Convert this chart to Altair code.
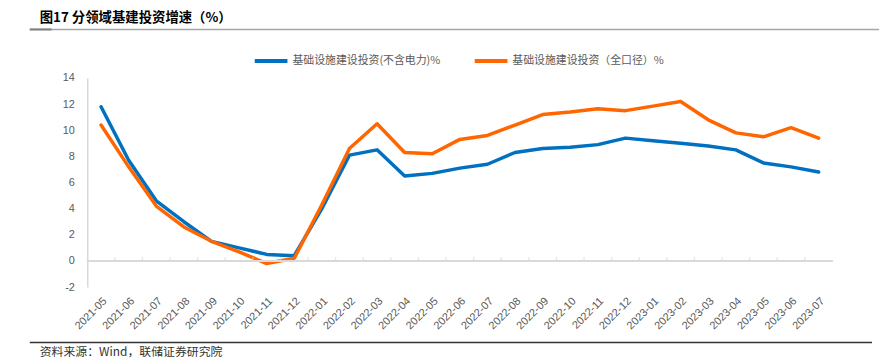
import altair as alt
import pandas as pd

months = ["2021-05", "2021-06", "2021-07", "2021-08", "2021-09", "2021-10", "2021-11", "2021-12",
          "2022-01", "2022-02", "2022-03", "2022-04", "2022-05", "2022-06", "2022-07", "2022-08",
          "2022-09", "2022-10", "2022-11", "2022-12", "2023-01", "2023-02", "2023-03", "2023-04",
          "2023-05", "2023-06", "2023-07"]
ex_power = [11.8, 7.7, 4.6, 3.0, 1.5, 1.0, 0.5, 0.4,
            4.0, 8.1, 8.5, 6.5, 6.7, 7.1, 7.4, 8.3,
            8.6, 8.7, 8.9, 9.4, 9.2, 9.0, 8.8, 8.5,
            7.5, 7.2, 6.8]
full_scope = [10.4, 7.2, 4.2, 2.6, 1.5, 0.7, -0.2, 0.2,
              4.3, 8.6, 10.5, 8.3, 8.2, 9.3, 9.6, 10.4,
              11.2, 11.4, 11.65, 11.5, 11.85, 12.2, 10.8, 9.8,
              9.5, 10.2, 9.4]
s1 = "基础设施建设投资(不含电力)%"
s2 = "基础设施建设投资（全口径）%"
title_text = "图17 分领域基建投资增速（%）"
source_text = "资料来源：Wind，联储证券研究院"
y_ticks = [-2, 0, 2, 4, 6, 8, 10, 12, 14]

df = pd.DataFrame({
    "month": months * 2,
    "value": ex_power + full_scope,
    "series": [s1] * len(months) + [s2] * len(months),
})

W, H = 752, 211
xscale = alt.Scale(type="band", domain=months, paddingInner=0, paddingOuter=0)
yscale = alt.Scale(domain=[-2, 14], nice=False)

x_axis = alt.Axis(title=None, labelAngle=-45, domain=False, ticks=False,
                  labelColor="#595959", labelFontSize=11, labelFont="Liberation Sans",
                  labelPadding=8, labelOverlap=False)
y_axis = alt.Axis(title=None, values=y_ticks, grid=False, ticks=False,
                  domainColor="#d9d9d9", domainWidth=1.5,
                  labelColor="#595959", labelFontSize=11, labelFont="Liberation Sans",
                  labelPadding=13, labelOverlap=False, labelSeparation=0,
                  labelExpr="'' + datum.value")

base = alt.Chart(df)

lines = base.mark_line(strokeWidth=3.5, strokeCap="round", strokeJoin="round").encode(
    x=alt.X("month:N", scale=xscale, sort=months, axis=x_axis),
    y=alt.Y("value:Q", scale=yscale, axis=y_axis),
    color=alt.Color("series:N",
                    scale=alt.Scale(domain=[s1, s2], range=["#0070C0", "#FF6600"]),
                    legend=alt.Legend(title=None, orient="none", legendX=167, legendY=-36,
                                      direction="horizontal", symbolType="stroke",
                                      symbolSize=1089, symbolStrokeWidth=4,
                                      labelFont="Noto Sans CJK SC", labelFontSize=11,
                                      labelColor="#595959", labelLimit=300, labelOffset=3,
                                      columnPadding=26)),
)

zero = base.mark_rule(color="#d9d9d9", strokeWidth=1.5).encode(
    y=alt.Y(datum=0, type="quantitative", scale=yscale, axis=y_axis))

ticks = alt.Chart(pd.DataFrame({"month": months})).mark_tick(
    orient="vertical", size=4, thickness=1.2, color="#d9d9d9"
).encode(
    x=alt.X("month:N", scale=xscale, sort=months, bandPosition=0, axis=x_axis),
    y=alt.Y(datum=0.15, type="quantitative", scale=yscale, axis=y_axis),
)

one = pd.DataFrame({"a": [1]})
title_mark = alt.Chart(one).mark_text(
    text=title_text, align="left", baseline="middle", font="Noto Sans CJK SC",
    fontSize=13.5, fontWeight="bold", color="#000000"
).encode(x=alt.value(-48), y=alt.value(-60.5))

title_rule = alt.Chart(one).mark_rule(color="#a6a6a6", strokeWidth=1.5).encode(
    x=alt.value(-58), x2=alt.value(799), y=alt.value(-49))
title_rule_dark = alt.Chart(one).mark_rule(color="#7f7f7f", strokeWidth=2).encode(
    x=alt.value(-58), x2=alt.value(-36), y=alt.value(-49))

bottom_rule = alt.Chart(one).mark_rule(color="#333333", strokeWidth=1.5).encode(
    x=alt.value(-58), x2=alt.value(792), y=alt.value(267))

source_mark = alt.Chart(one).mark_text(
    text=source_text, align="left", baseline="middle", font="Noto Sans CJK SC",
    fontSize=12, color="#333333"
).encode(x=alt.value(-48), y=alt.value(277))

chart = alt.layer(lines, zero, ticks, title_rule, title_rule_dark, title_mark,
                  bottom_rule, source_mark).properties(
    width=W, height=H,
    autosize=alt.AutoSizeParams(type="none"),
    padding={"left": 80, "top": 69, "right": 47, "bottom": 76},
).configure_view(stroke=None).configure_axis(labelOverlap=False)

chart.save("out.html", embed_options={"renderer": "svg", "actions": False})
